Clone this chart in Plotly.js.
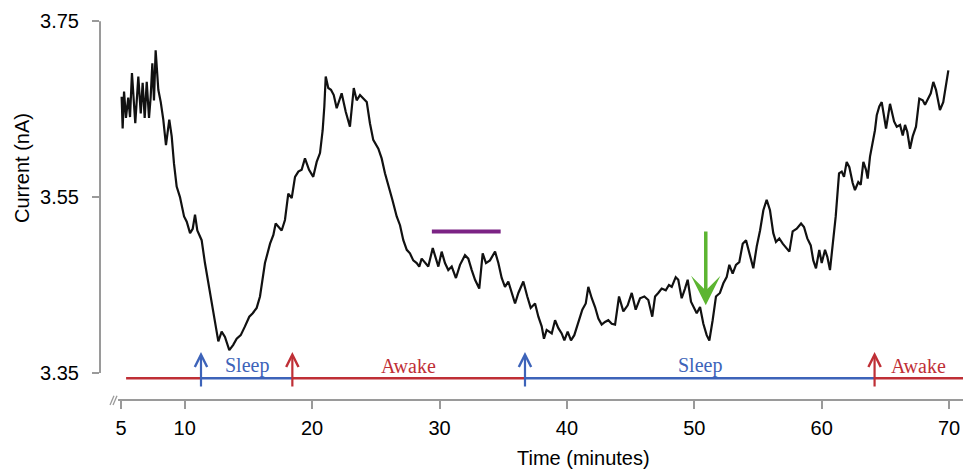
<!DOCTYPE html>
<html>
<head>
<meta charset="utf-8">
<script src="https://cdn.plot.ly/plotly-3.0.1.min.js"></script>
<style>html,body{margin:0;padding:0;background:#fff;}#chart{width:963px;height:470px;}</style>
</head>
<body>
<div id="chart"></div>
<script>
// ---- data ----
const timeMin = [
5.05,5.13,5.24,5.39,5.57,5.71,5.86,6.02,6.12,6.36,6.55,6.70,6.86,7.02,7.20,7.33,7.46,7.59,7.72,7.93,8.12,8.32,8.53,8.79,8.98,9.16,9.37,9.63,9.95,10.16,10.42,10.63,10.81,10.99,11.33,11.59,11.85,12.12,12.38,12.64,12.90,13.16,13.50,13.81,14.08,14.40,14.73,15.07,15.34,15.65,15.91,
16.30,16.70,16.96,17.14,17.40,17.61,17.87,18.13,18.40,18.66,18.92,19.18,19.44,19.76,20.09,20.36,20.62,20.83,20.96,21.07,21.27,21.48,21.70,21.93,22.32,22.64,22.97,23.27,23.50,23.76,24.02,24.29,24.54,24.80,25.20,25.46,25.72,25.98,26.30,26.64,26.90,27.16,27.43,27.68,27.94,28.21,28.41,28.60,28.86,29.12,
29.47,29.78,29.91,30.17,30.43,30.69,30.96,31.29,31.61,32.00,32.26,32.53,32.79,33.12,33.39,33.65,33.96,34.36,34.62,34.88,35.14,35.40,35.67,35.93,36.19,36.58,36.89,37.16,37.50,37.76,38.02,38.20,38.41,38.81,39.07,39.33,39.59,39.80,40.06,40.32,40.58,40.89,41.21,41.48,41.68,41.95,42.21,42.47,42.73,42.99,
43.25,43.52,43.78,44.09,44.43,44.77,45.09,45.40,45.74,46.08,46.39,46.70,46.92,47.17,47.44,47.76,48.01,48.23,48.54,48.74,49.01,49.27,49.48,49.74,49.92,50.19,50.45,50.71,50.97,51.18,51.44,51.70,52.01,52.28,52.54,52.75,53.01,53.27,53.53,53.80,54.06,54.37,54.63,54.90,55.16,55.42,55.68,55.94,56.20,56.41,
56.67,56.94,57.25,57.46,57.72,58.04,58.38,58.61,58.87,59.14,59.34,59.55,59.81,60.00,60.26,60.44,60.65,60.86,61.10,61.36,61.57,61.75,61.96,62.17,62.43,62.61,62.87,63.06,63.27,63.48,63.61,63.79,64.00,64.18,64.32,64.52,64.71,65.05,65.36,65.68,65.89,66.15,66.36,66.54,66.72,66.93,67.14,67.40,67.66,67.93,68.11,68.37,68.56,68.76,68.97,69.28,69.54,69.94
];
const currentNA = [
3.664,3.628,3.670,3.640,3.663,3.641,3.691,3.649,3.634,3.687,3.645,3.680,3.640,3.681,3.640,3.664,3.702,3.660,3.717,3.672,3.658,3.638,3.609,3.638,3.619,3.588,3.562,3.550,3.528,3.522,3.509,3.514,3.530,3.512,3.501,3.475,3.452,3.429,3.406,3.386,3.397,3.391,3.376,3.382,3.389,3.393,3.403,3.414,3.418,3.424,3.437,
3.475,3.497,3.507,3.520,3.516,3.512,3.524,3.554,3.549,3.573,3.579,3.581,3.594,3.581,3.573,3.590,3.600,3.626,3.653,3.687,3.674,3.672,3.666,3.651,3.668,3.647,3.630,3.674,3.660,3.666,3.662,3.658,3.634,3.615,3.605,3.594,3.577,3.564,3.547,3.528,3.518,3.501,3.490,3.486,3.478,3.475,3.471,3.480,3.476,3.471,
3.492,3.478,3.471,3.488,3.475,3.467,3.471,3.458,3.473,3.484,3.480,3.467,3.456,3.446,3.486,3.475,3.478,3.488,3.475,3.458,3.448,3.454,3.441,3.429,3.441,3.454,3.437,3.424,3.429,3.414,3.403,3.389,3.399,3.395,3.410,3.401,3.395,3.387,3.397,3.387,3.393,3.406,3.422,3.429,3.448,3.435,3.425,3.412,3.405,3.408,
3.410,3.406,3.405,3.437,3.420,3.427,3.441,3.422,3.435,3.437,3.433,3.414,3.437,3.441,3.446,3.444,3.450,3.448,3.459,3.456,3.435,3.446,3.456,3.431,3.425,3.418,3.425,3.406,3.393,3.387,3.410,3.437,3.441,3.452,3.459,3.473,3.463,3.473,3.476,3.497,3.501,3.482,3.469,3.494,3.512,3.535,3.547,3.535,3.509,3.499,
3.503,3.497,3.492,3.488,3.511,3.514,3.520,3.516,3.503,3.495,3.478,3.469,3.490,3.475,3.490,3.482,3.467,3.494,3.528,3.577,3.579,3.573,3.590,3.584,3.566,3.558,3.567,3.564,3.590,3.581,3.571,3.596,3.611,3.626,3.643,3.653,3.658,3.628,3.656,3.636,3.630,3.632,3.620,3.632,3.624,3.605,3.619,3.630,3.662,3.660,3.655,3.662,3.668,3.681,3.672,3.649,3.658,3.694
];
// behavioural state timeline
const stateName  = ['Awake', 'Sleep', 'Awake', 'Sleep', 'Awake'];
const stateStart = [5.4, 11.28, 18.45, 36.71, 64.15];
const stateEnd   = [11.28, 18.45, 36.71, 64.15, 71.1];
const stateLevel = 3.344;
// purple bar (period marker)
const markerStart = 29.4, markerEnd = 34.8, markerLevel = 3.511;
// green arrow event
const eventTime = 50.9, eventFrom = 3.5125, eventTo = 3.427;
// ticks
const xTicks = [5,10,20,30,40,50,60,70];
const yTicks = [3.35,3.55,3.75];

// ---- styles ----
const RED = '#bf2f36', BLUE = '#3d63b9';
const stateColor = {Awake: RED, Sleep: BLUE};
const GRAY = '#9a9a9a';

const traces = [{
  x: timeMin, y: currentNA, type: 'scatter', mode: 'lines',
  line: {color: '#111', width: 2.2}, hoverinfo: 'skip', showlegend: false
}, {
  x: [markerStart, markerEnd], y: [markerLevel, markerLevel], type: 'scatter', mode: 'lines',
  line: {color: '#7b2384', width: 4}, showlegend: false
}];
for (let i = 0; i < stateName.length; i++) {
  traces.push({
    x: [stateStart[i], stateEnd[i]], y: [stateLevel, stateLevel], type: 'scatter', mode: 'lines',
    line: {color: stateColor[stateName[i]], width: 2.5}, showlegend: false
  });
}

const annotations = [];
for (let i = 1; i < stateName.length; i++) {
  const c = stateColor[stateName[i]];
  annotations.push({
    x: stateStart[i], y: 3.374, ax: stateStart[i], ay: 3.333,
    xref: 'x', yref: 'y', axref: 'x', ayref: 'y', text: '',
    showarrow: true, arrowhead: 5, arrowsize: 1.1, arrowwidth: 2.2, arrowcolor: c, standoff: 0
  });
  annotations.push({
    x: (stateStart[i] + stateEnd[i]) / 2, y: 3.358, xref: 'x', yref: 'y',
    text: stateName[i], showarrow: false, yanchor: 'middle',
    font: {family: 'Liberation Serif, serif', size: 20, color: c}
  });
}
annotations.push({
  x: eventTime, y: eventTo, ax: eventTime, ay: eventFrom,
  xref: 'x', yref: 'y', axref: 'x', ayref: 'y', text: '',
  showarrow: true, arrowhead: 3, arrowsize: 1.4, arrowwidth: 3.5, arrowcolor: '#5cb531', standoff: 0
});
annotations.push({
  x: -0.0904, y: 0.612, xref: 'paper', yref: 'paper', text: 'Current (nA)', textangle: -90,
  showarrow: false, xanchor: 'center', yanchor: 'middle',
  font: {family: 'Liberation Sans, Arial, sans-serif', size: 20, color: '#000'}
});
annotations.push({
  x: 0.5597, y: -0.153, xref: 'paper', yref: 'paper', text: 'Time (minutes)',
  showarrow: false, xanchor: 'center', yanchor: 'middle',
  font: {family: 'Liberation Sans, Arial, sans-serif', size: 20, color: '#000'}
});

const shapes = [
  {type: 'line', xref: 'paper', yref: 'y', x0: 0, x1: 0, y0: 3.35, y1: 3.75, line: {color: GRAY, width: 2}},
  {type: 'line', xref: 'paper', yref: 'paper', x0: 0.0209, x1: 1, y0: 0, y1: 0, line: {color: GRAY, width: 2}},
  {type: 'line', xref: 'paper', yref: 'paper', x0: 0.0116, x1: 0.0162, y0: -0.013, y1: 0.011, line: {color: GRAY, width: 1.3}},
  {type: 'line', xref: 'paper', yref: 'paper', x0: 0.0151, x1: 0.0197, y0: -0.013, y1: 0.011, line: {color: GRAY, width: 1.3}}
];

const layout = {
  width: 963, height: 470,
  margin: {l: 100, r: 0, t: 21, b: 70, pad: 0},
  paper_bgcolor: '#fff', plot_bgcolor: '#fff',
  showlegend: false,
  font: {family: 'Liberation Sans, Arial, sans-serif', size: 20, color: '#000'},
  xaxis: {
    range: [3.352, 71.09], tickvals: xTicks, ticktext: xTicks.map(String),
    showgrid: false, zeroline: false, showline: false,
    ticks: 'outside', ticklen: 8, tickwidth: 2, tickcolor: GRAY,
    ticklabelstandoff: 2,
    tickfont: {size: 20, color: '#000'}
  },
  yaxis: {
    range: [3.3193, 3.7502], tickvals: yTicks, ticktext: yTicks.map(v => v.toFixed(2)),
    showgrid: false, zeroline: false, showline: false,
    ticks: 'outside', ticklen: 7, tickwidth: 2, tickcolor: GRAY,
    ticklabelstandoff: 9,
    tickfont: {size: 20, color: '#000'}
  },
  shapes: shapes,
  annotations: annotations
};

Plotly.newPlot('chart', traces, layout, {staticPlot: true, displayModeBar: false});
</script>
</body>
</html>
